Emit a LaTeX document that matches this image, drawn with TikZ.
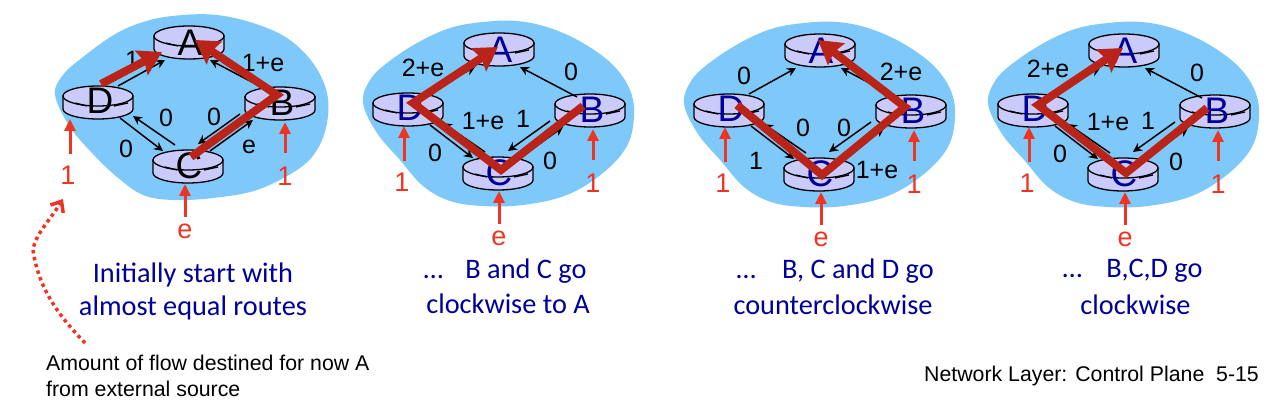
\documentclass[tikz,border=0pt]{standalone}
\usepackage{fontspec}
\setmainfont{Liberation Sans}
\newfontfamily\capfont{Carlito}
\usetikzlibrary{arrows.meta,shapes.geometric}
\definecolor{cloudblue}{HTML}{7FC9FA}
\definecolor{routerfill}{HTML}{CBCBFB}
\definecolor{navytext}{HTML}{000099}
\definecolor{flowred}{HTML}{BA2418}
\definecolor{inred}{HTML}{EE3524}
\tikzset{
  routertop/.style={ellipse,draw=black,line width=1.3pt,fill=routerfill,minimum width=70pt,minimum height=20pt,inner sep=0pt,outer sep=0pt},
  routerbody/.style={draw=black,line width=1.3pt,fill=routerfill},
  routerletter/.style={font=\fontsize{37}{37}\selectfont,anchor=base,inner sep=0pt},
  linkarrow/.style={draw=black,line width=1.5pt,-{Stealth[length=9pt,width=9pt]}},
  linklabel/.style={font=\fontsize{25}{25}\selectfont,inner sep=0pt,text=black},
  flowarrow/.style={draw=flowred,line width=8pt,line join=miter,-{Stealth[length=23pt,width=27pt,inset=3pt]}},
  inarrow/.style={draw=inred,line width=3pt,-{Triangle[length=12pt,width=11pt]}},
  inlabel/.style={font=\fontsize{27}{27}\selectfont,text=inred,inner sep=0pt},
  capt/.style={font=\capfont\fontsize{28.3}{28.3}\selectfont,text=navytext,inner sep=0pt},
  note/.style={font=\fontsize{21.3}{21.3}\selectfont,text=black,inner sep=0pt,anchor=base west},
}
\newcommand\onerouter[3]{% name, x, y
  \path[routerbody] (#2-35,#3) -- (#2-35,#3+13) arc[start angle=180,end angle=360,x radius=35pt,y radius=10pt] -- (#2+35,#3) -- cycle;
  \node[routertop] (#1) at (#2,#3) {};
  \draw[black,line width=1.3pt] (#2-23,#3+7) -- (#2-11,#3+10) (#2+16,#3+10) -- (#2+30,#3+7);
}
\newcommand\netpanel[4]{% suffix, ax, ay, letter colour
  \onerouter{a#1}{#2}{#3}
  \onerouter{d#1}{#2-91}{#3+60}
  \onerouter{b#1}{#2+91}{#3+61}
  \onerouter{c#1}{#2-1}{#3+124}
  \draw[linkarrow] ([shift={(20,-10)}]d#1.center) -- ([shift={(-24,24)}]a#1.center);
  \draw[linkarrow] ([shift={(-13,-7)}]b#1.center) -- ([shift={(21,24)}]a#1.center);
  \draw[linkarrow] ([shift={(-13,-15)}]c#1.center) -- ([shift={(35,20)}]d#1.center);
  \draw[linkarrow] ([shift={(22,22)}]d#1.center) -- ([shift={(-25,-9)}]c#1.center);
  \draw[linkarrow] ([shift={(-40,17)}]b#1.center) -- ([shift={(10,-16)}]c#1.center);
  \draw[linkarrow] ([shift={(22,-9)}]c#1.center) -- ([shift={(-27,23)}]b#1.center);
  \node[routerletter,text=#4] (al#1) at ([shift={(1,20)}]a#1.center) {A};
  \node[routerletter,text=#4] (dl#1) at ([shift={(2,18)}]d#1.center) {D};
  \node[routerletter,text=#4] (bl#1) at ([shift={(2,19)}]b#1.center) {B};
  \node[routerletter,text=#4] (cl#1) at ([shift={(1,19)}]c#1.center) {C};
}
\newcommand\inputs[5]{% suffix, d dx, b dx, c dx, d label dx
  \draw[inarrow] ([shift={(#2,58)}]d#1.center) -- ([shift={(#2,23)}]d#1.center);
  \draw[inarrow] ([shift={(#3,56)}]b#1.center) -- ([shift={(#3,25)}]b#1.center);
  \draw[inarrow] ([shift={(#4,57)}]c#1.center) -- ([shift={(#4,24)}]c#1.center);
  \node[inlabel] (dn#1) at ([shift={(#5,79)}]d#1.center) {1};
  \node[inlabel] (bn#1) at ([shift={(#3,79)}]b#1.center) {1};
  \node[inlabel] (cn#1) at ([shift={(#4,71)}]c#1.center) {e};
}
\begin{document}
\begin{tikzpicture}[x=1pt,y=-1pt]
\useasboundingbox (0,0) rectangle (1280,419);
% clouds
\begin{scope}[shift={(189,36)}]
\fill[cloudblue] plot[smooth cycle,tension=0.6] coordinates {(-134,59)(-126,39)(-106,21)(-72,-3)(-39,-16)(-6,-21)(28,-21)(64,-13)(98,2)(124,27)(138,57)(138,87)(128,114)(108,134)(68,154)(24,162)(-16,164)(-46,159)(-72,141)(-96,118)(-119,91)};
\end{scope}
\foreach \cx/\cy in {499/43,820/44,1124/44}{
\begin{scope}[shift={(\cx,\cy)}]
\fill[cloudblue] plot[smooth cycle,tension=0.6] coordinates {(-136,60)(-129,37)(-112,20)(-82,0)(-49,-15)(-16,-21)(18,-22)(51,-15)(84,0)(114,22)(131,47)(135,73)(128,103)(104,130)(68,152)(24,162)(-16,163)(-49,158)(-76,143)(-99,117)(-122,90)};
\end{scope}}
% networks
\netpanel{1}{189}{36}{black}
\netpanel{2}{499}{43}{navytext}
\netpanel{3}{820}{44}{navytext}
\netpanel{4}{1124}{44}{navytext}
% link labels
\node[linklabel] (l11) at (132,60) {1};
\node[linklabel] (l12) at (263,63) {1+e};
\node[linklabel] (l13) at (166,118) {0};
\node[linklabel] (l14) at (214,117) {0};
\node[linklabel] (l15) at (126,149) {0};
\node[linklabel] (l16) at (249,147) {e};
\node[linklabel] (l21) at (423,68) {2+e};
\node[linklabel] (l22) at (571,72) {0};
\node[linklabel] (l23) at (483,121) {1+e};
\node[linklabel] (l24) at (523,119) {1};
\node[linklabel] (l25) at (435,153) {0};
\node[linklabel] (l26) at (550,161) {0};
\node[linklabel] (l31) at (744,76) {0};
\node[linklabel] (l32) at (901,72) {2+e};
\node[linklabel] (l33) at (803,128) {0};
\node[linklabel] (l34) at (844,128) {0};
\node[linklabel] (l35) at (756,161) {1};
\node[linklabel] (l36) at (877,170) {1+e};
\node[linklabel] (l41) at (1048,69) {2+e};
\node[linklabel] (l42) at (1197,73) {0};
\node[linklabel] (l43) at (1108,122) {1+e};
\node[linklabel] (l44) at (1148,121) {1};
\node[linklabel] (l45) at (1060,154) {0};
\node[linklabel] (l46) at (1176,162) {0};
% flow routes
\draw[flowarrow] ([shift={(3,-12)}]d1.center) -- ([shift={(-27,16)}]a1.center);
\draw[flowarrow] ([shift={(3,-3)}]c1.center) -- ([shift={(-3,-2)}]b1.center) -- ([shift={(6,4)}]a1.center);
\draw[flowarrow] ([shift={(-7,2)}]b2.center) -- ([shift={(3,3)}]c2.center) -- ([shift={(5,0)}]d2.center) -- ([shift={(-1,4)}]a2.center);
\draw[flowarrow] ([shift={(8,1)}]d3.center) -- ([shift={(3,7)}]c3.center) -- ([shift={(-6,2)}]b3.center) -- ([shift={(-2,-4)}]a3.center);
\draw[flowarrow] ([shift={(-8,3)}]b4.center) -- ([shift={(3,5)}]c4.center) -- ([shift={(5,1)}]d4.center) -- ([shift={(-1,4)}]a4.center);
% external inputs
\inputs{1}{-28}{5}{-3}{-30}
\inputs{2}{-4}{3}{1}{-6}
\inputs{3}{-4}{3}{2}{-6}
\inputs{4}{-4}{3}{2}{-6}
% dotted pointer
\coordinate (ps) at (85,343);
\coordinate (pm) at (33,250);
\coordinate (pe) at (63,199);
\draw[inred,line width=3.5pt,dash pattern=on 3.5pt off 3.5pt,-{Straight Barb[length=9pt,width=15pt,line width=3.5pt]}] (ps) .. controls (55,312) and (38,285) .. (pm) .. controls (35,235) and (50,220) .. (pe);
% captions
\node[capt] (t11) at (193,275) {Initially start with};
\node[capt] (t12) at (193,308) {almost equal routes};
\node[capt] (t21) at (505,271) {…\hspace{16pt} B and C go};
\node[capt] (t22) at (508,304) {clockwise to A};
\node[capt] (t31) at (835,271) {…\hspace{20pt} B, C and D go};
\node[capt] (t32) at (833,305) {counterclockwise};
\node[capt] (t41) at (1132.5,271) {…\hspace{18pt} B,C,D go};
\node[capt] (t42) at (1135.5,305) {clockwise};
\node[note] (n1) at (46,371) {Amount of flow destined for now A};
\node[note] (n2) at (46,397) {from external source};
\node[note] (n3) at (924,382) {Network Layer: Control Plane\ \ 5-15};
\end{tikzpicture}
\end{document}
